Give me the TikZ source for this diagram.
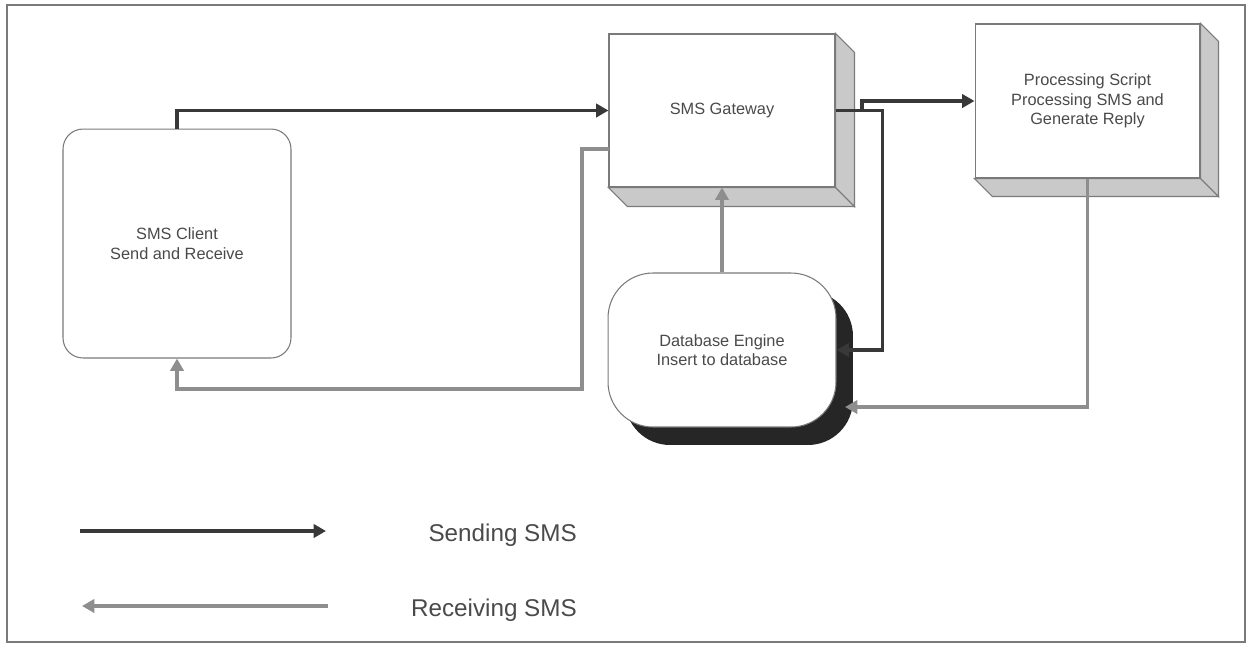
\documentclass[tikz,border=0pt]{standalone}
\usepackage{fontspec}
\setmainfont{Liberation Sans}
\usetikzlibrary{arrows.meta,calc}
\definecolor{sendc}{HTML}{383838}
\definecolor{recvc}{HTML}{8E8E8E}
\definecolor{edgec}{HTML}{7A7A7A}
\definecolor{textc}{HTML}{4A4A4A}
\definecolor{facec}{HTML}{C9C9C9}
\tikzset{
  send/.style={draw=sendc, line width=1.9pt, -{Triangle[length=7pt,width=7.5pt]}},
  recv/.style={draw=recvc, line width=1.9pt, -{Triangle[length=7pt,width=7.5pt]}},
  label/.style={text=textc, font=\fontsize{9.3}{11.2}\selectfont, align=center},
  legend/.style={text=textc, font=\fontsize{13.8}{16}\selectfont, anchor=east},
  frontbox/.style={draw=edgec, line width=0.6pt, fill=white, rectangle, inner sep=0pt},
  roundbox/.style={draw=edgec, line width=0.6pt, fill=white, rectangle, rounded corners=#1, inner sep=0pt},
  sideface/.style={draw=edgec, line width=0.6pt, fill=facec},
}
\begin{document}
\begin{tikzpicture}[x=0.02cm, y=-0.02cm]
\useasboundingbox (0,0) rectangle (1252,647);
% outer frame
\draw[draw=edgec, line width=0.7pt] (7,5) rectangle (1245,642);

% SMS Gateway (box with depth)
\node[frontbox, minimum width=4.52cm, minimum height=3.06cm] (gw) at (722,110.5) {};
\filldraw[sideface] (gw.north east) -- ++(19,19) -- ($(gw.south east)+(19,19)$) -- (gw.south east) -- cycle;
\filldraw[sideface] (gw.south west) -- ++(19,19) -- ($(gw.south east)+(19,19)$) -- (gw.south east) -- cycle;
\node[label] at (gw) {SMS Gateway};

% Processing Script (box with depth)
\node[frontbox, minimum width=4.5cm, minimum height=3.08cm] (ps) at (1087.5,101) {};
\filldraw[sideface] (ps.north east) -- ++(18,18) -- ($(ps.south east)+(18,18)$) -- (ps.south east) -- cycle;
\filldraw[sideface] (ps.south west) -- ++(18,18) -- ($(ps.south east)+(18,18)$) -- (ps.south east) -- cycle;
\node[label] at (ps) {Processing Script\\Processing SMS and\\Generate Reply};

% SMS Client
\node[roundbox=0.4cm, minimum width=4.56cm, minimum height=4.58cm, label] (cl) at (177,243.5) {SMS Client\\Send and Receive};

% Database Engine with dark shadow
\node[roundbox=0.9cm, draw=none, fill=black!85, minimum width=4.56cm, minimum height=3.08cm] (dbs) at (739,368) {};
\node[roundbox=0.9cm, minimum width=4.56cm, minimum height=3.08cm, label] (db) at (722,350) {Database Engine\\Insert to database};

% sending connectors
\coordinate (br) at (862,110.5);
\draw[send] (cl.north) |- (gw.west);
\draw[send] (gw.east) -- ++(47,0) |- (db.east);
\draw[send] (br) |- (ps.west);

% receiving connectors
\coordinate (dbin) at (845,407);
\coordinate (gwout) at (609,149);
\coordinate (bend) at (582,389);
\draw[recv] (ps.south) |- (dbin);
\draw[recv] (db.north) -- (gw.south);
\draw[recv] (gwout) -| (bend) -| (cl.south);

% legend
\coordinate (s1) at (80,531);
\coordinate (s2) at (326,531);
\coordinate (r1) at (328,606);
\coordinate (r2) at (82,606);
\draw[send] (s1) -- (s2);
\draw[recv] (r1) -- (r2);
\node[legend] (ls) at (583,535) {Sending SMS};
\node[legend] (lr) at (583,610) {Receiving SMS};
\end{tikzpicture}
\end{document}
